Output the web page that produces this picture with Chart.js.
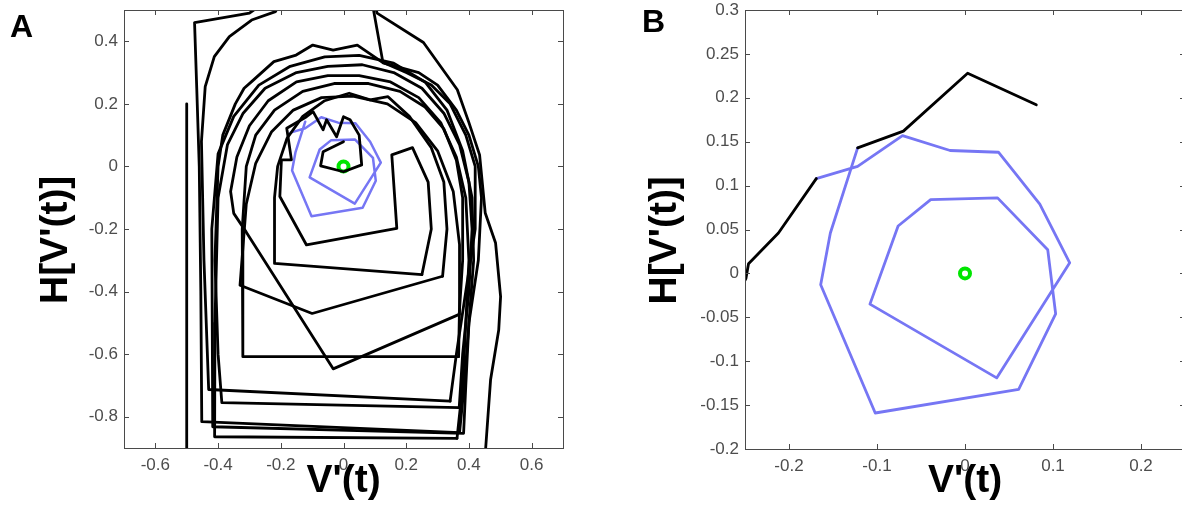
<!DOCTYPE html>
<html>
<head>
<meta charset="utf-8">
<script src="https://cdn.jsdelivr.net/npm/chart.js@4.4.1/dist/chart.umd.min.js"></script>
<style>
html,body{margin:0;padding:0;background:#fff;width:1182px;height:518px;overflow:hidden;}
.panel{position:absolute;top:0;height:518px;width:600px;}
.lbl{position:absolute;font-family:"Liberation Sans",Arial,sans-serif;font-weight:bold;font-size:32px;line-height:1;color:#000;}
</style>
</head>
<body>
<div class="panel" style="left:0"><canvas id="cA" width="600" height="518"></canvas></div>
<div class="panel" style="left:600px"><canvas id="cB" width="600" height="518"></canvas></div>
<div class="lbl" style="left:10px;top:10px">A</div>
<div class="lbl" style="left:642px;top:5px">B</div>
<script>
// ---------- tick labels ----------
const xTicksA = [-0.6,-0.4,-0.2,0,0.2,0.4,0.6];
const yTicksA = [-0.8,-0.6,-0.4,-0.2,0,0.2,0.4];
const xTicksB = [-0.2,-0.1,0,0.1,0.2];
const yTicksB = [-0.2,-0.15,-0.1,-0.05,0,0.05,0.1,0.15,0.2,0.25,0.3];

// ---------- panel A black trajectory pieces ----------
const a1V = [-0.5,-0.5,-0.46,0.44,0.453,0.469,0.495,0.501,0.485,0.452,0.434,0.40,0.363,0.255,0.107,0.09,-0.2,-0.3,-0.475,-0.468,-0.46,-0.455,-0.452,0.37];
const a1H = [0.2,-0.95,-1.0,-1.0,-0.906,-0.682,-0.523,-0.416,-0.245,-0.149,0.037,0.14,0.245,0.396,0.49,0.56,0.56,0.49,0.46,0.25,0.0,-0.4,-0.816,-0.851];
const a2V = [0.37,0.385,0.40,0.43,0.44,0.43,0.40,0.36,0.30,0.24,0.126,0.085,-0.18,-0.217,-0.293,-0.364,-0.412,-0.441,-0.453,-0.445,-0.43,0.34];
const a2H = [-0.851,-0.7,-0.5,-0.3,-0.1,0.0,0.1,0.18,0.26,0.30,0.331,0.56,0.56,0.495,0.468,0.415,0.351,0.255,0.08,-0.3,-0.713,-0.75];
const a3V = [0.34,0.36,0.39,0.42,0.42,0.39,0.34,0.28,0.20,0.121,0.044,-0.033,-0.098,-0.151,-0.222,-0.293,-0.317,-0.345,-0.385,-0.40,-0.41,-0.40,-0.388,0.369];
const a3H = [-0.75,-0.6,-0.4,-0.2,0.0,0.1,0.2,0.26,0.30,0.335,0.388,0.372,0.388,0.356,0.335,0.271,0.25,0.2,0.1,0.0,-0.3,-0.6,-0.755,-0.771];
const a4V = [0.369,0.38,0.40,0.41,0.40,0.37,0.32,0.25,0.16,0.06,-0.05,-0.15,-0.25,-0.32,-0.37,-0.40,-0.41,-0.411,0.362];
const a4H = [-0.771,-0.6,-0.4,-0.2,-0.05,0.07,0.17,0.25,0.30,0.325,0.32,0.30,0.25,0.17,0.07,-0.1,-0.5,-0.864,-0.869];
const a5V = [0.362,0.38,0.39,0.40,0.39,0.36,0.31,0.24,0.15,0.05,-0.05,-0.15,-0.24,-0.30,-0.34,-0.36,-0.35,-0.31,-0.033,0.369];
const a5H = [-0.869,-0.7,-0.5,-0.3,-0.1,0.03,0.14,0.22,0.27,0.29,0.29,0.27,0.21,0.13,0.03,-0.08,-0.15,-0.21,-0.647,-0.473];
const a6V = [0.369,0.38,0.38,0.36,0.32,0.26,0.18,0.08,-0.03,-0.13,-0.22,-0.28,-0.31,-0.323,-0.321,0.367];
const a6H = [-0.473,-0.3,-0.1,0.02,0.12,0.19,0.24,0.265,0.265,0.24,0.18,0.10,0.0,-0.2,-0.608,-0.608];
const a7V = [0.367,0.37,0.37,0.35,0.30,0.23,0.14,0.03,-0.07,-0.16,-0.23,-0.28,-0.31,-0.33,-0.10,0.316];
const a7H = [-0.608,-0.45,-0.25,-0.08,0.05,0.14,0.20,0.225,0.22,0.18,0.11,0.01,-0.12,-0.38,-0.47,-0.351];
const a8V = [0.316,0.33,0.32,0.28,0.21,0.142,0.085,0.018,-0.06,-0.13,-0.18,-0.21,-0.22,-0.22,0.25];
const a8H = [-0.351,-0.2,-0.05,0.06,0.16,0.223,0.213,0.234,0.21,0.16,0.09,0.0,-0.10,-0.31,-0.346];
const a9V = [0.25,0.28,0.27,0.22,0.154,0.17,-0.118,-0.203,-0.198,-0.166,-0.181,-0.118,-0.097,-0.065,-0.054,-0.022,0.0,0.021,0.05,0.058,0.0,-0.073,-0.065,0.0];
const a9H = [-0.346,-0.2,-0.05,0.06,0.037,-0.198,-0.251,-0.096,0.021,0.021,0.122,0.159,0.175,0.117,0.149,0.095,0.159,0.149,0.10,0.005,-0.017,0.002,0.047,0.079];
const a10V = [0.38,0.33,0.26,0.16,0.05,-0.06,-0.17,-0.27,-0.35,-0.40,-0.42,-0.417,0.383,0.39,0.40,0.415,0.41,0.38];
const a10H = [0.05,0.18,0.27,0.33,0.355,0.35,0.32,0.26,0.16,0.04,-0.2,-0.832,-0.853,-0.7,-0.5,-0.3,-0.1,0.05];

// ---------- panel B black pieces ----------
const b1V = [-0.262,-0.249,-0.246,-0.212,-0.169];
const b1H = [-0.03,-0.006,0.011,0.046,0.108];
const b2V = [-0.122,-0.070,0.003,0.081];
const b2H = [0.143,0.162,0.228,0.192];

// ---------- blue trajectory (same in both panels) ----------
const blueV = [-0.169,-0.122,-0.071,-0.017,0.038,0.085,0.119,0.036,-0.108,-0.076,-0.039,0.037,0.094,0.103,0.061,-0.102,-0.164,-0.153,-0.122];
const blueH = [0.108,0.122,0.157,0.140,0.138,0.079,0.012,-0.119,-0.035,0.054,0.084,0.086,0.027,-0.046,-0.132,-0.159,-0.013,0.046,0.143];

// ---------- fixed point ----------
const fixV = [0];
const fixH = [0];

function pts(v,h){return v.map((x,i)=>({x:x,y:h[i]}));}
function lineDS(v,h,color,w){
  return {data:pts(v,h),showLine:true,borderColor:color,borderWidth:w,pointRadius:0,pointHoverRadius:0,tension:0,fill:false,clip:0,borderJoinStyle:'round',borderCapStyle:'round'};
}
const BLACK='#000000', BLUE='#7676f4', GREEN='#00e600';
function fixDS(){
  return {data:pts(fixV,fixH),showLine:false,pointRadius:5,pointBorderWidth:4,pointBorderColor:GREEN,pointBackgroundColor:'#ffffff',clip:false};
}

const boxPlugin = {
  id:'box',
  afterDraw(chart){
    const {ctx,chartArea:a,scales} = chart;
    ctx.save();
    ctx.strokeStyle='#4a4a4a';
    ctx.lineWidth=1;
    ctx.strokeRect(Math.round(a.left)+0.5,Math.round(a.top)+0.5,Math.round(a.right-a.left),Math.round(a.bottom-a.top));
    const tl=5;
    ctx.beginPath();
    scales.x.ticks.forEach(t=>{
      const px=Math.round(scales.x.getPixelForValue(t.value))+0.5;
      ctx.moveTo(px,a.bottom);ctx.lineTo(px,a.bottom-tl);
      ctx.moveTo(px,a.top);ctx.lineTo(px,a.top+tl);
    });
    scales.y.ticks.forEach(t=>{
      const py=Math.round(scales.y.getPixelForValue(t.value))+0.5;
      ctx.moveTo(a.left,py);ctx.lineTo(a.left+tl,py);
      ctx.moveTo(a.right,py);ctx.lineTo(a.right-tl,py);
    });
    ctx.stroke();
    ctx.restore();
  }
};

function fmt(v){return String(Math.round(v*1000)/1000);}

function makeChart(id,datasets,xr,yr,xt,yt,yAxisW,xAxisH,padR,padT,yTitlePad){
  const tickFontX={family:'"Liberation Sans", Arial, sans-serif',size:17};
  const tickFontY={family:'"Liberation Sans", Arial, sans-serif',size:17,lineHeight:0.45};
  const titleFont={family:'"Liberation Sans", Arial, sans-serif',size:39,weight:'bold'};
  return new Chart(document.getElementById(id),{
    type:'scatter',
    data:{datasets:datasets},
    options:{
      responsive:false,animation:false,
      layout:{padding:{top:padT,right:padR,bottom:0,left:0}},
      plugins:{legend:{display:false},tooltip:{enabled:false}},
      scales:{
        x:{type:'linear',min:xr[0],max:xr[1],
          afterBuildTicks:s=>{s.ticks=xt.map(v=>({value:v}));},
          afterFit:s=>{s.height=xAxisH;},
          grid:{display:false,drawTicks:false},
          border:{display:false},
          ticks:{padding:7,color:'#4d4d4d',font:tickFontX,callback:v=>fmt(v),maxRotation:0,autoSkip:false},
          title:{display:true,text:"V'(t)",color:'#000',font:titleFont,padding:{top:0,bottom:13}}
        },
        y:{type:'linear',min:yr[0],max:yr[1],
          afterBuildTicks:s=>{s.ticks=yt.map(v=>({value:v}));},
          afterFit:s=>{s.width=yAxisW;},
          grid:{display:false,drawTicks:false},
          border:{display:false},
          ticks:{padding:6,color:'#4d4d4d',font:tickFontY,callback:v=>fmt(v),autoSkip:false},
          title:{display:true,text:"H[V'(t)]  ",color:'#000',font:titleFont,padding:{top:yTitlePad,bottom:0}}
        }
      }
    },
    plugins:[boxPlugin]
  });
}

const W=2.8;
const dsA=[
  lineDS(a1V,a1H,BLACK,W),lineDS(a2V,a2H,BLACK,W),lineDS(a3V,a3H,BLACK,W),
  lineDS(a4V,a4H,BLACK,W),lineDS(a5V,a5H,BLACK,W),lineDS(a6V,a6H,BLACK,W),
  lineDS(a7V,a7H,BLACK,W),lineDS(a8V,a8H,BLACK,W),lineDS(a9V,a9H,BLACK,W),
  lineDS(a10V,a10H,BLACK,W),
  lineDS(blueV,blueH,BLUE,2.5),fixDS()
];
const dsB=[
  lineDS(b1V,b1H,BLACK,W),lineDS(b2V,b2H,BLACK,W),
  lineDS(blueV,blueH,BLUE,2.8),fixDS()
];
makeChart('cA',dsA,[-0.7,0.7],[-0.9,0.5],xTicksA,yTicksA,124,70,37,10,33);
makeChart('cB',dsB,[-0.25,0.25],[-0.2,0.3],xTicksB,yTicksB,145,69,15,10,42);
</script>
</body>
</html>
